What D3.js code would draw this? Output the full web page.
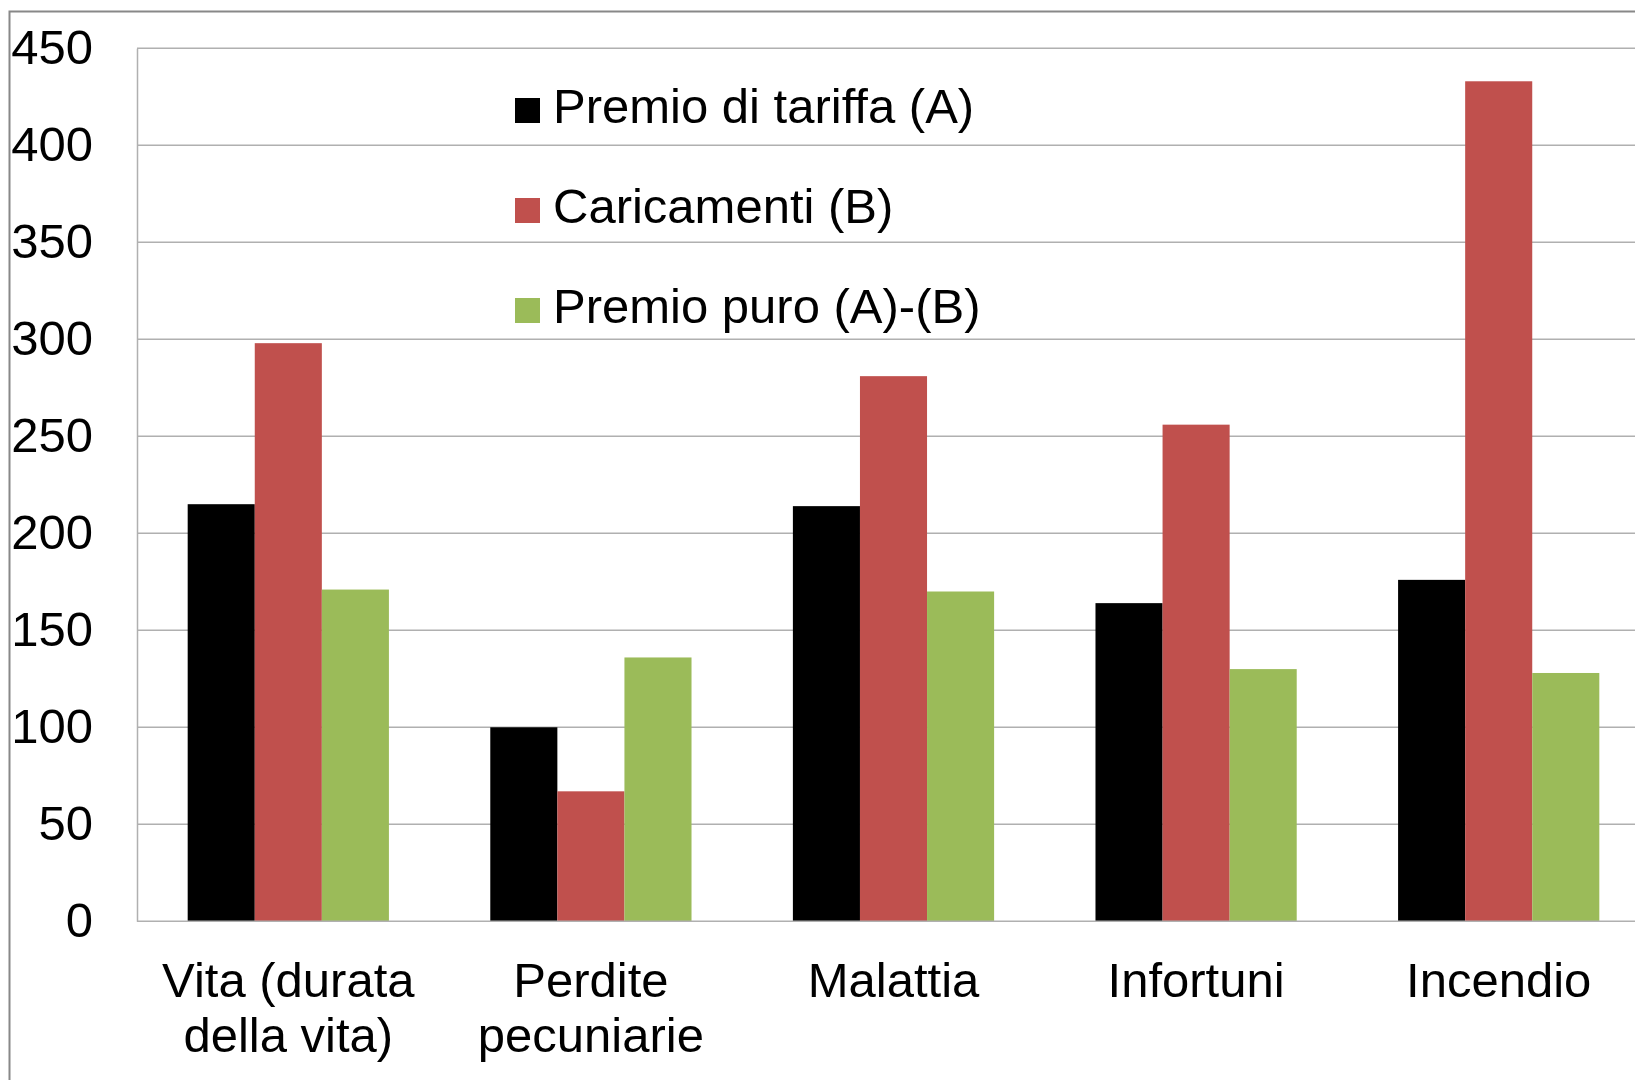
<!DOCTYPE html>
<html>
<head>
<meta charset="utf-8">
<script src="https://cdn.jsdelivr.net/npm/d3@7/dist/d3.min.js"></script>
<style>
  html, body { margin: 0; padding: 0; background: #fff; overflow: hidden; }
  svg { display: block; font-family: "Liberation Sans", Arial, sans-serif; }
</style>
</head>
<body>
<svg id="chart" width="1635" height="1080"></svg>
<script>
// Categories (insurance branches), each label split into lines
const categories = ["Vita (durata della vita)", "Perdite pecuniarie", "Malattia", "Infortuni", "Incendio"];
const categoryLines = [["Vita (durata", "della vita)"], ["Perdite", "pecuniarie"], ["Malattia"], ["Infortuni"], ["Incendio"]];

// Series
const seriesNames = ["Premio di tariffa (A)", "Caricamenti (B)", "Premio puro (A)-(B)"];
const premioTariffa = [215, 100, 214, 164, 176];
const caricamenti = [298, 67, 281, 256, 433];
const premioPuro = [171, 136, 170, 130, 128];
const seriesColors = ["#000000", "#C0504D", "#9BBB59"];

// Y axis ticks
const yTicks = [0, 50, 100, 150, 200, 250, 300, 350, 400, 450];

const seriesValues = [premioTariffa, caricamenti, premioPuro];

const svg = d3.select("#chart");
const plot = { left: 137, right: 1650, top: 48.3, bottom: 921.3 };

// Outer frame (runs off the right and bottom edges)
svg.append("rect")
  .attr("x", 9.5).attr("y", 11.5)
  .attr("width", 2000).attr("height", 2000)
  .attr("fill", "none").attr("stroke", "#888").attr("stroke-width", 2);

const x = d3.scaleBand()
  .domain(categories)
  .range([plot.left, plot.right])
  .paddingInner(0.335)
  .paddingOuter(0.1675);

const xs = d3.scaleBand()
  .domain(d3.range(seriesNames.length))
  .range([0, x.bandwidth()])
  .padding(0);

const y = d3.scaleLinear().domain([0, 450]).range([plot.bottom, plot.top]);

// Horizontal gridlines
svg.append("g")
  .selectAll("line")
  .data(yTicks.filter(d => d > 0))
  .join("line")
  .attr("x1", plot.left).attr("x2", plot.right)
  .attr("y1", d => y(d)).attr("y2", d => y(d))
  .attr("stroke", "#b0b0b0").attr("stroke-width", 1.5);

// Bars
const groups = svg.append("g")
  .selectAll("g")
  .data(categories)
  .join("g")
  .attr("transform", d => `translate(${x(d)},0)`);

groups.selectAll("rect")
  .data((d, i) => seriesValues.map((vals, s) => ({ s, v: vals[i] })))
  .join("rect")
  .attr("x", d => xs(d.s))
  .attr("width", xs.bandwidth())
  .attr("y", d => y(d.v))
  .attr("height", d => y(0) - y(d.v))
  .attr("fill", d => seriesColors[d.s]);

// Axis lines
const yAxis = d3.axisLeft(y).tickValues(yTicks).tickSize(0).tickPadding(44);
const gy = svg.append("g").attr("transform", `translate(${plot.left},0)`).call(yAxis);
gy.select(".domain").attr("stroke", "#b0b0b0").attr("stroke-width", 1.5);
gy.selectAll("text")
  .attr("font-size", 49)
  .attr("fill", "#000")
  .attr("font-family", "'Liberation Sans', Arial, sans-serif");

svg.append("line")
  .attr("x1", plot.left).attr("x2", plot.right)
  .attr("y1", y(0)).attr("y2", y(0))
  .attr("stroke", "#b0b0b0").attr("stroke-width", 1.5);

// Category labels
const xl = svg.append("g");
categories.forEach((c, i) => {
  const t = xl.append("text")
    .attr("x", x(c) + x.bandwidth() / 2)
    .attr("y", 997)
    .attr("text-anchor", "middle")
    .attr("font-size", 49)
    .attr("fill", "#000");
  categoryLines[i].forEach((line, k) => {
    t.append("tspan")
      .attr("x", x(c) + x.bandwidth() / 2)
      .attr("dy", k === 0 ? 0 : 55)
      .text(line);
  });
});

// Legend
const legend = svg.append("g").attr("transform", "translate(515,0)");
seriesNames.forEach((name, i) => {
  const base = 123 + i * 100;
  legend.append("rect")
    .attr("x", 0).attr("y", base - 25)
    .attr("width", 25).attr("height", 25)
    .attr("fill", seriesColors[i]);
  legend.append("text")
    .attr("x", 38).attr("y", base)
    .attr("font-size", 49)
    .attr("fill", "#000")
    .text(name);
});
</script>
</body>
</html>
